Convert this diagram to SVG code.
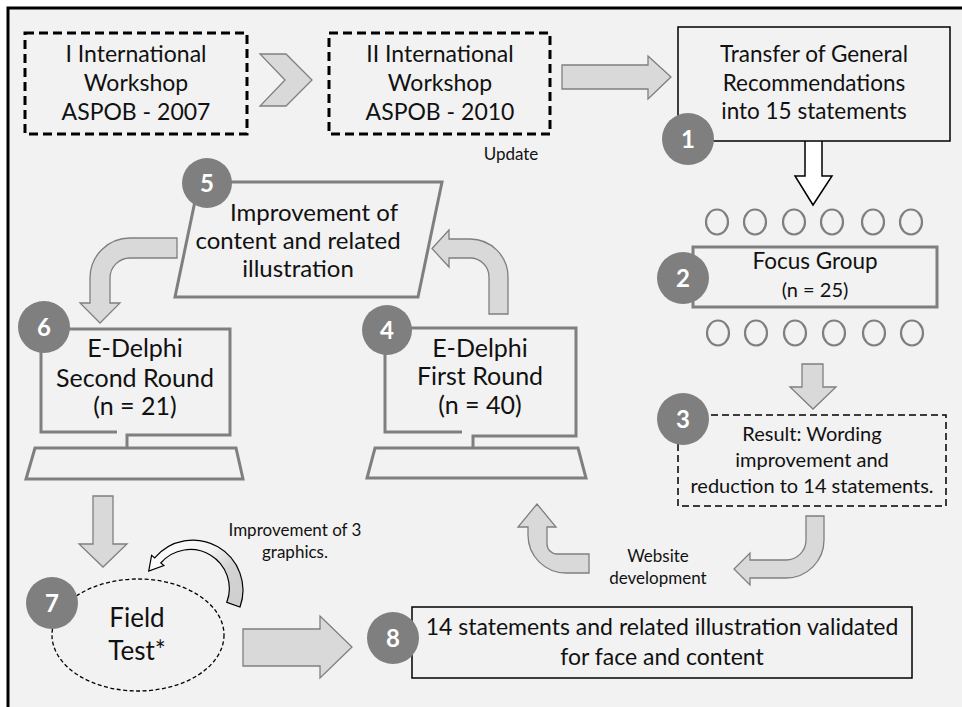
<svg xmlns="http://www.w3.org/2000/svg" width="962" height="707" viewBox="0 0 962 707">
<defs>
<style>
text{font-family:Lato,"Liberation Sans",sans-serif;fill:#111;text-anchor:middle}
.t23{font-size:23px}
.t22{font-size:22.5px}
.t25{font-size:25px}
.tp{font-size:24px}
.t20{font-size:20px}
.sm{font-size:17px}
.num circle{fill:#7f7f7f}
.num text{fill:#fff;font-weight:bold;font-size:24px}
.gbox{fill:none;stroke:#7f7f7f;stroke-width:3}
.dash{fill:none;stroke:#000;stroke-width:3;stroke-dasharray:9 5}
.thin{fill:none;stroke:#000;stroke-width:1.5}
.garrow{fill:#d9d9d9;stroke:#7f7f7f;stroke-width:1.3;stroke-linejoin:miter}
.dot{fill:none;stroke:#7f7f7f;stroke-width:2.2}
</style>
<linearGradient id="cg" x1="0" y1="0" x2="1" y2="0.6">
<stop offset="0" stop-color="#ffffff"/>
<stop offset="0.55" stop-color="#f4f4f4"/>
<stop offset="0.8" stop-color="#d4d4d4"/>
<stop offset="1" stop-color="#d0d0d0"/>
</linearGradient>
</defs>
<rect x="0" y="0" width="962" height="707" fill="#ffffff"/>
<rect x="8" y="8" width="970" height="720" fill="#f2f2f2" stroke="#000" stroke-width="3"/>

<g id="connectors">
<path class="garrow" d="M260 54 L286 54 L312 80 L286 106 L260 106 L285 80 Z"/>
<path class="garrow" d="M562 65 L648 65 L648 56 L671 77 L648 99 L648 89 L562 89 Z"/>
<path d="M805 141 L805 176 L795 176 L813 205 L832 176 L822 176 L822 141" fill="#fff" stroke="#000" stroke-width="1.5"/>
<path class="garrow" d="M802 364 L823 364 L823 387 L836 387 L813 409 L790 387 L802 387 Z"/>
<path class="garrow" d="M806 516 L824 516 L824 540 A38 38 0 0 1 786 578 L750 578 L750 585 L734 569 L750 553 L750 560 L786 560 A20 20 0 0 0 806 540 Z"/>
<path class="garrow" d="M589 554 L557 554 A10 10 0 0 1 547 544 L547 527 L556 527 L537 504 L518 527 L528 527 L528 535 A38 38 0 0 0 566 573 L589 573 Z"/>
<path class="garrow" d="M489 314 L489 277 A19 19 0 0 0 470 258 L449 258 L449 267 L432 248.5 L449 230 L449 239 L470 239 A38 38 0 0 1 508 277 L508 314 Z"/>
<path class="garrow" d="M177 238 L130 238 A40 40 0 0 0 90 278 L90 303 L80 303 L100 323 L120 303 L110 303 L110 278 A20 20 0 0 1 130 258 L177 258 Z"/>
<path class="garrow" d="M93 496 L113 496 L113 544 L127 544 L103 567 L79 544 L93 544 Z"/>
<path d="M240 607 A50 50 0 0 0 154.7 557.9 L151.6 555.3 L148.7 571.1 L163.9 565.6 L160.8 563 A39 39 0 0 1 226.8 602.3 Z" fill="url(#cg)" stroke="#000" stroke-width="1.2"/>
<path class="garrow" d="M243 629 L320 629 L320 616 L352 647 L320 678 L320 666 L243 666 Z"/>
</g>

<g id="node-ws1">
<rect class="dash" x="25" y="33" width="222" height="101"/>
<text class="t23" x="136" y="62">I International</text>
<text class="t23" x="136" y="91">Workshop</text>
<text class="t23" x="136" y="120">ASPOB - 2007</text>
</g>

<g id="node-ws2">
<rect class="dash" x="329" y="33" width="221" height="101"/>
<text class="t23" x="440" y="62">II International</text>
<text class="t23" x="440" y="91">Workshop</text>
<text class="t23" x="440" y="120">ASPOB - 2010</text>
<text class="sm" x="511" y="160">Update</text>
</g>

<g id="node-1">
<rect class="thin" x="678" y="27" width="272" height="114"/>
<text class="t22" x="814" y="62">Transfer of General</text>
<text class="t22" x="814" y="91">Recommendations</text>
<text class="t22" x="814" y="119">into 15 statements</text>
<g class="num"><circle cx="688" cy="139" r="26"/><text x="688" y="148">1</text></g>
</g>

<g id="node-2">
<g>
<ellipse class="dot" cx="717" cy="222" rx="11" ry="12.5"/>
<ellipse class="dot" cx="755" cy="222" rx="11" ry="12.5"/>
<ellipse class="dot" cx="794" cy="222" rx="11" ry="12.5"/>
<ellipse class="dot" cx="832" cy="222" rx="11" ry="12.5"/>
<ellipse class="dot" cx="873" cy="222" rx="11" ry="12.5"/>
<ellipse class="dot" cx="911" cy="222" rx="11" ry="12.5"/>
<ellipse class="dot" cx="718" cy="333" rx="11" ry="12.5"/>
<ellipse class="dot" cx="756" cy="333" rx="11" ry="12.5"/>
<ellipse class="dot" cx="795" cy="333" rx="11" ry="12.5"/>
<ellipse class="dot" cx="834" cy="333" rx="11" ry="12.5"/>
<ellipse class="dot" cx="874" cy="333" rx="11" ry="12.5"/>
<ellipse class="dot" cx="912" cy="333" rx="11" ry="12.5"/>
</g>
<rect class="gbox" x="693" y="247" width="244" height="60"/>
<text class="t22" x="815" y="269">Focus Group</text>
<text x="815" y="297" style="font-size:20px">(n = 25)</text>
<g class="num"><circle cx="683" cy="278" r="26"/><text x="683" y="287">2</text></g>
</g>

<g id="node-3">
<rect x="678" y="415" width="268" height="91" fill="none" stroke="#000" stroke-width="1.5" stroke-dasharray="7 4"/>
<text class="t20" x="812" y="441">Result: Wording</text>
<text class="t20" x="812" y="467">improvement and</text>
<text class="t20" x="812" y="493">reduction to 14 statements.</text>
<g class="num"><circle cx="683" cy="419" r="26"/><text x="683" y="428">3</text></g>
</g>

<g id="node-website">
<text class="sm" x="658" y="562">Website</text>
<text class="sm" x="658" y="584">development</text>
</g>

<g id="node-4">
<path class="gbox" d="M462 432 L385 432 L385 328 L576 328 L576 436 L473 436 L473 447"/>
<path class="gbox" d="M375 448 L578 448 L586 478 L367 478 Z"/>
<text class="t25" x="480" y="357">E-Delphi</text>
<text class="t25" x="480" y="385">First Round</text>
<text class="t25" x="480" y="414">(n = 40)</text>
<g class="num"><circle cx="387" cy="330" r="25"/><text x="387" y="339">4</text></g>
</g>

<g id="node-5">
<path class="gbox" d="M199 182 L442 182 L418 297 L175 297 Z"/>
<text class="tp" x="314" y="221">Improvement  of</text>
<text class="tp" x="298" y="249">content and related</text>
<text class="tp" x="298" y="277">illustration</text>
<g class="num"><circle cx="207" cy="183" r="25"/><text x="207" y="192">5</text></g>
</g>

<g id="node-6">
<path class="gbox" d="M117 432 L41 432 L41 329 L230 329 L230 435 L127 435 L127 447"/>
<path class="gbox" d="M35 448 L236 448 L243 479 L26 479 Z"/>
<text class="t25" x="135" y="357">E-Delphi</text>
<text class="t25" x="135" y="387">Second Round</text>
<text class="t25" x="135" y="415">(n = 21)</text>
<g class="num"><circle cx="44" cy="327" r="26"/><text x="44" y="336">6</text></g>
</g>

<g id="node-7">
<ellipse cx="138" cy="635" rx="86" ry="56" fill="none" stroke="#000" stroke-width="1.3" stroke-dasharray="4 2.5"/>
<text x="137" y="627" style="font-size:26px">Field</text>
<text x="137" y="660" style="font-size:26px">Test*</text>
<text class="sm" x="295" y="536">Improvement of 3</text>
<text class="sm" x="295" y="558">graphics.</text>
<g class="num"><circle cx="52" cy="603" r="26"/><text x="52" y="612">7</text></g>
</g>

<g id="node-8">
<rect class="thin" x="412" y="607" width="500" height="71"/>
<text x="662" y="635" style="font-size:23px">14 statements and related illustration validated</text>
<text x="662" y="665" style="font-size:23px">for face and content</text>
<g class="num"><circle cx="393" cy="638" r="26"/><text x="393" y="647">8</text></g>
</g>
</svg>
